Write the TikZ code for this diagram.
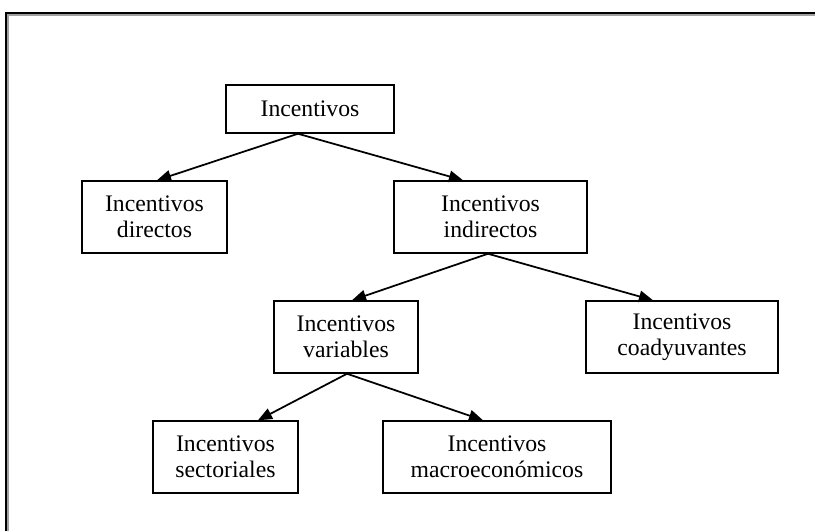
\documentclass[tikz,border=0pt]{standalone}
\usepackage{fontspec}
\setmainfont{Liberation Serif}
\usetikzlibrary{arrows.meta, calc}
\definecolor{cframe}{HTML}{000000}
\definecolor{cshade}{HTML}{A0A0A0}
\tikzset{
  every picture/.style={line width=0.85pt},
  box/.style={draw=black, fill=white, align=center, inner sep=0pt, minimum width=#1, minimum height=1.44cm},
  box/.default=2.9cm,
  arrow/.style={-{Triangle[length=8pt, width=6.5pt]}, draw=black, line width=1pt},
}

\begin{document}
\begin{tikzpicture}[x=0.02cm, y=-0.02cm, every node/.append style={font=\fontsize{13.5}{14.7}\selectfont}]
  \useasboundingbox (0,0) rectangle (815,531);
  % outer frame (only top and left edges are visible)
  \draw[cshade, line width=0.9pt] (7.8,531) -- (7.8,14.8) -- (815,14.8);
  \draw[cframe, line width=1.2pt] (6,531) -- (6,13) -- (815,13);
  % boxes
  \node[box=3.36cm, minimum height=0.96cm] (inc) at (310,109) {Incentivos};
  \node[box] (dir) at (154.5,217) {Incentivos\\directos};
  \node[box=3.86cm] (ind) at (490.5,217) {Incentivos\\indirectos};
  \node[box=2.88cm] (var) at (346,337) {Incentivos\\variables};
  \node[box=3.84cm] (coa) at (682,337) {Incentivos\\coadyuvantes};
  \node[box] (sec) at (225.5,457) {Incentivos\\sectoriales};
  \node[box=4.56cm] (mac) at (497,457) {Incentivos\\macroeconómicos};
  % arrows
  \draw[arrow] ($(inc.south)+(-12,0)$) -- ($(dir.north)+(2.5,0)$);
  \draw[arrow] ($(inc.south)+(-12,0)$) -- ($(ind.north)+(-27.5,0)$);
  \draw[arrow] ($(ind.south)+(-2.5,0)$) -- ($(var.north)+(6,0)$);
  \draw[arrow] ($(ind.south)+(-2.5,0)$) -- ($(coa.north)+(-29,0)$);
  \draw[arrow] ($(var.south)+(1,0)$) -- ($(sec.north)+(32.5,0)$);
  \draw[arrow] ($(var.south)+(1,0)$) -- ($(mac.north)+(-14,0)$);
\end{tikzpicture}
\end{document}
